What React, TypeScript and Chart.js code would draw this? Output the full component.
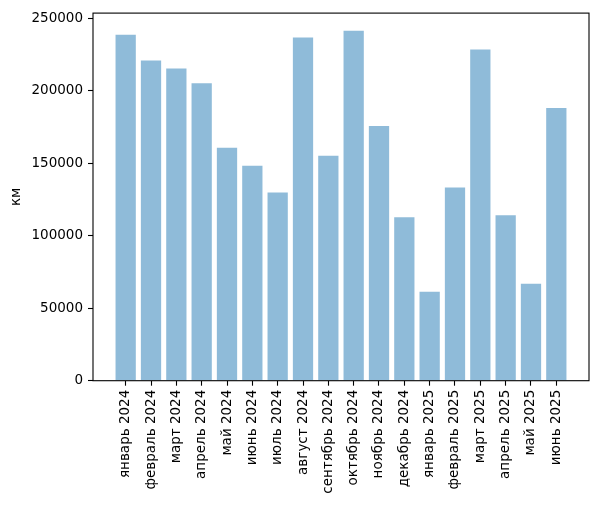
import React, { useEffect, useRef } from "react";
import { Chart, registerables } from "chart.js";

Chart.register(...registerables);

const months = [
  "январь 2024", "февраль 2024", "март 2024", "апрель 2024", "май 2024", "июнь 2024",
  "июль 2024", "август 2024", "сентябрь 2024", "октябрь 2024", "ноябрь 2024", "декабрь 2024",
  "январь 2025", "февраль 2025", "март 2025", "апрель 2025", "май 2025", "июнь 2025",
];
const km = [
  238800, 221000, 215500, 205300, 160800, 148400,
  129900, 236800, 155300, 241600, 175800, 112800,
  61400, 133300, 228600, 114200, 66900, 188200,
];
const yTicks = [0, 50000, 100000, 150000, 200000, 250000];

const FONT = { family: "'DejaVu Sans', sans-serif", size: 13.5 };

const frame = {
  id: "frame",
  afterDraw(chart: Chart) {
    const { ctx, chartArea: a } = chart;
    ctx.save();
    ctx.strokeStyle = "#000";
    ctx.lineWidth = 1.1;
    ctx.strokeRect(a.left, a.top, a.right - a.left, a.bottom - a.top);
    ctx.restore();
  },
};

export default function App() {
  const ref = useRef<HTMLCanvasElement | null>(null);

  useEffect(() => {
    document.body.style.margin = "0";
    const ctx = ref.current?.getContext("2d");
    if (!ctx) return;
    const n = months.length;
    const pad = (n - 1 + 0.8) * 0.05;
    const chart = new Chart(ctx, {
      type: "bar",
      data: {
        datasets: [
          {
            data: km.map((v, i) => ({ x: i, y: v })),
            backgroundColor: "rgba(31,119,180,0.5)",
            borderWidth: 0,
            categoryPercentage: 1,
            barPercentage: 0.8,
          },
        ],
      },
      options: {
        animation: false,
        responsive: false,
        layout: { padding: { left: 0, top: 10, right: 9, bottom: 0 } },
        plugins: { legend: { display: false }, tooltip: { enabled: false } },
        scales: {
          x: {
            type: "linear",
            offset: false,
            min: -0.4 - pad,
            max: n - 1 + 0.4 + pad,
            afterBuildTicks: (s: any) => {
              s.ticks = months.map((_, i) => ({ value: i }));
            },
            afterFit: (s: any) => {
              s.height = 126.3;
            },
            ticks: {
              autoSkip: false,
              maxRotation: 90,
              minRotation: 90,
              padding: 4,
              color: "#000",
              font: FONT,
              callback: (v: any) => months[v] ?? "",
            },
            grid: { offset: false, drawOnChartArea: false, drawTicks: true, tickLength: 5, tickColor: "#000", tickWidth: 1.1 },
            border: { display: false },
          },
          y: {
            min: 0,
            max: 253700,
            afterBuildTicks: (s: any) => {
              s.ticks = yTicks.map((v) => ({ value: v }));
            },
            afterFit: (s: any) => {
              s.width = 93;
            },
            title: { display: true, text: "км", color: "#000", font: FONT, padding: 8 },
            ticks: { padding: 5, color: "#000", font: FONT, callback: (v: any) => String(v) },
            grid: { drawOnChartArea: false, drawTicks: true, tickLength: 5, tickColor: "#000", tickWidth: 1.1 },
            border: { display: false },
          },
        },
      },
      plugins: [frame],
    });
    return () => chart.destroy();
  }, []);

  return (
    <div style={{ width: 598, height: 507, background: "#fff" }}>
      <canvas ref={ref} width={598} height={507} aria-label="Bar chart" role="img" />
    </div>
  );
}
